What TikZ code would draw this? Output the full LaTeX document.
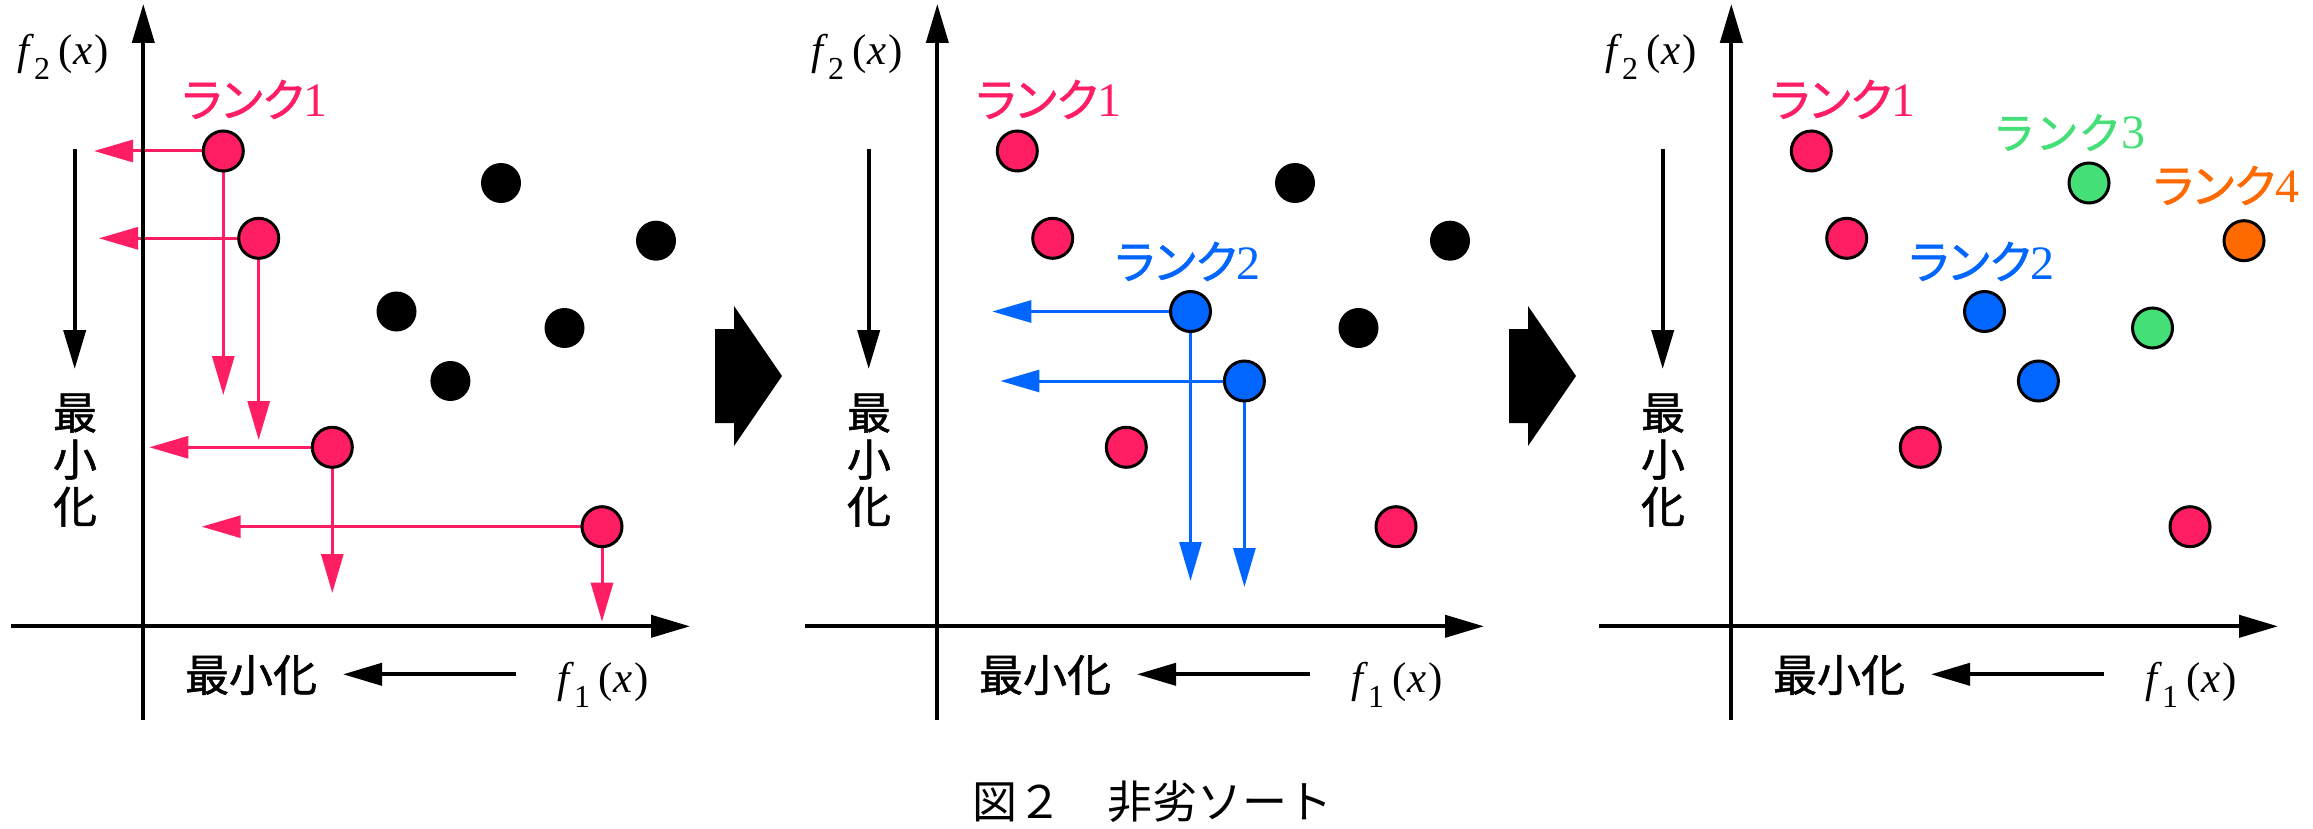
\documentclass[tikz,border=0pt]{standalone}
\usepackage{fontspec}
\setmainfont{Liberation Serif}
\newfontfamily\jp{Noto Sans CJK JP}[FakeBold=1.2]
\newfontfamily\jpk{Noto Sans CJK JP}[RawFeature=+palt, FakeBold=1.2]
\newfontfamily\jpc{Noto Sans CJK JP}
\usetikzlibrary{arrows.meta}
\definecolor{rkA}{HTML}{FF1E64}
\definecolor{rkB}{HTML}{0066FF}
\definecolor{rkC}{HTML}{44E077}
\definecolor{rkD}{HTML}{FF6A00}
\pgfdeclarelayer{bg}
\pgfdeclarelayer{mid}
\pgfsetlayers{bg,mid,main}

\newcommand\fx[1]{\textit{f}\raisebox{-15pt}{\fontsize{32}{32}\selectfont #1}\hspace{8pt}(\hspace{1pt}\textit{x}\hspace{2pt})}
\newcommand\rk[1]{{\jpk\fontsize{46}{50}\selectfont ランク}#1}

\newcommand\myaxes[1]{%
  \begin{pgfonlayer}{mid}
  \coordinate (#1-yb) at (143.3,720);
  \coordinate (#1-yt) at (143.3,4);
  \coordinate (#1-xl) at (11,626.3);
  \coordinate (#1-xr) at (690,626.3);
  \draw[axisline] (#1-yb) -- (#1-yt);
  \draw[axisline] (#1-xl) -- (#1-xr);
  \end{pgfonlayer}
  \coordinate (#1-ms) at (74.7,149);
  \coordinate (#1-me) at (74.7,369);
  \draw[axisline] (#1-ms) -- (#1-me);
  \node[jlabel, align=center] (#1-vmin) at (75,460) {最\\小\\化};
  \coordinate (#1-hs) at (515.7,674.3);
  \coordinate (#1-he) at (343,674.3);
  \draw[axisline] (#1-hs) -- (#1-he);
  \node[jlabel] (#1-hmin) at (251,675) {最小化};
  \node[flabel] (#1-f2) at (17,65) {\fx{2}};
  \node[flabel] (#1-f1) at (557,692) {\fx{1}};
}

\begin{document}
\begin{tikzpicture}[x=1pt,y=-1pt,
  headarrow/.style={-{Triangle[length=39pt,width=22pt]}},
  axisline/.style={headarrow, line width=4pt, black},
  proj/.style={headarrow, line width=3pt},
  ptnode/.style={circle, minimum size=40pt, inner sep=0pt, outer sep=0pt},
  dom/.style={ptnode, draw=black, line width=3pt, fill=#1},
  undom/.style={ptnode, fill=black},
  ranklabel/.style={inner sep=0pt, anchor=base, text=#1, font=\fontsize{48}{50}\selectfont},
  jlabel/.style={inner sep=0pt, font=\jp\fontsize{44}{47}\selectfont},
  flabel/.style={inner sep=0pt, anchor=base west, font=\fontsize{43}{48}\selectfont},
  bigarrow/.style={fill=black}
]
\useasboundingbox (0,0) rectangle (2313,829);

% ---------------- panel 1 ----------------
\begin{scope}
\myaxes{pa}
\node[ranklabel=rkA] (pa-r1) at (255,117) {\rk{1}};
\node[dom=rkA] (pa-a) at (223.3,151) {};
\node[dom=rkA] (pa-b) at (258.7,238.3) {};
\node[dom=rkA] (pa-c) at (332.3,447.3) {};
\node[dom=rkA] (pa-d) at (602,526.7) {};
\node[undom] (pa-u1) at (501,183) {};
\node[undom] (pa-u2) at (656,240.7) {};
\node[undom] (pa-u3) at (396.5,311.5) {};
\node[undom] (pa-u4) at (564.5,328) {};
\node[undom] (pa-u5) at (450.4,381) {};
\coordinate (pa-al) at (94,151);      \coordinate (pa-ad) at (223.3,395);
\coordinate (pa-bl) at (99,238.3);    \coordinate (pa-bd) at (258.7,440);
\coordinate (pa-cl) at (149.3,447.3); \coordinate (pa-cd) at (332.3,593);
\coordinate (pa-dl) at (201.7,526.7); \coordinate (pa-dd) at (602,621.7);
\begin{pgfonlayer}{bg}
\foreach \p in {a,b,c,d}{
  \draw[proj, rkA] (pa-\p) -- (pa-\p l);
  \draw[proj, rkA] (pa-\p) -- (pa-\p d);
}
\end{pgfonlayer}
\end{scope}

\fill[bigarrow] (715,329) -- (734,329) -- (734,306) -- (782,376) -- (734,446) -- (734,423) -- (715,423) -- cycle;

% ---------------- panel 2 ----------------
\begin{scope}[xshift=794pt]
\myaxes{pb}
\node[ranklabel=rkA] (pb-r1) at (255,117) {\rk{1}};
\node[ranklabel=rkB] (pb-r2) at (394,279) {\rk{2}};
\node[dom=rkA] (pb-a) at (223.3,151) {};
\node[dom=rkA] (pb-b) at (258.7,238.3) {};
\node[dom=rkA] (pb-c) at (332.3,447.3) {};
\node[dom=rkA] (pb-d) at (602,526.7) {};
\node[dom=rkB] (pb-e) at (396.5,311.5) {};
\node[dom=rkB] (pb-f) at (450.4,381) {};
\node[undom] (pb-u1) at (501,183) {};
\node[undom] (pb-u2) at (656,240.7) {};
\node[undom] (pb-u4) at (564.5,328) {};
\coordinate (pb-el) at (198.3,311.5); \coordinate (pb-ed) at (396.5,581);
\coordinate (pb-fl) at (206.4,381);   \coordinate (pb-fd) at (450.4,587);
\begin{pgfonlayer}{bg}
\foreach \p in {e,f}{
  \draw[proj, rkB] (pb-\p) -- (pb-\p l);
  \draw[proj, rkB] (pb-\p) -- (pb-\p d);
}
\end{pgfonlayer}
\end{scope}

\fill[bigarrow] (1509,329) -- (1528,329) -- (1528,306) -- (1576,376) -- (1528,446) -- (1528,423) -- (1509,423) -- cycle;

% ---------------- panel 3 ----------------
\begin{scope}[xshift=1588pt]
\myaxes{pc}
\node[ranklabel=rkA] (pc-r1) at (255,117) {\rk{1}};
\node[ranklabel=rkB] (pc-r2) at (394,279) {\rk{2}};
\node[ranklabel=rkC] (pc-r3) at (481,149) {{\jp\fontsize{43}{50}\selectfont ランク}3};
\node[ranklabel=rkD] (pc-r4) at (638.5,203) {\rk{4}};
\node[dom=rkA] (pc-a) at (223.3,151) {};
\node[dom=rkA] (pc-b) at (258.7,238.3) {};
\node[dom=rkA] (pc-c) at (332.3,447.3) {};
\node[dom=rkA] (pc-d) at (602,526.7) {};
\node[dom=rkB] (pc-e) at (396.5,311.5) {};
\node[dom=rkB] (pc-f) at (450.4,381) {};
\node[dom=rkC] (pc-g) at (501,183) {};
\node[dom=rkC] (pc-h) at (564.5,328) {};
\node[dom=rkD] (pc-i) at (656,240.7) {};
\end{scope}

% caption
\node[inner sep=0pt, font=\jpc\fontsize{45}{50}\selectfont] (cap) at (1152,802) {図２　非劣ソート};
\end{tikzpicture}
\end{document}
